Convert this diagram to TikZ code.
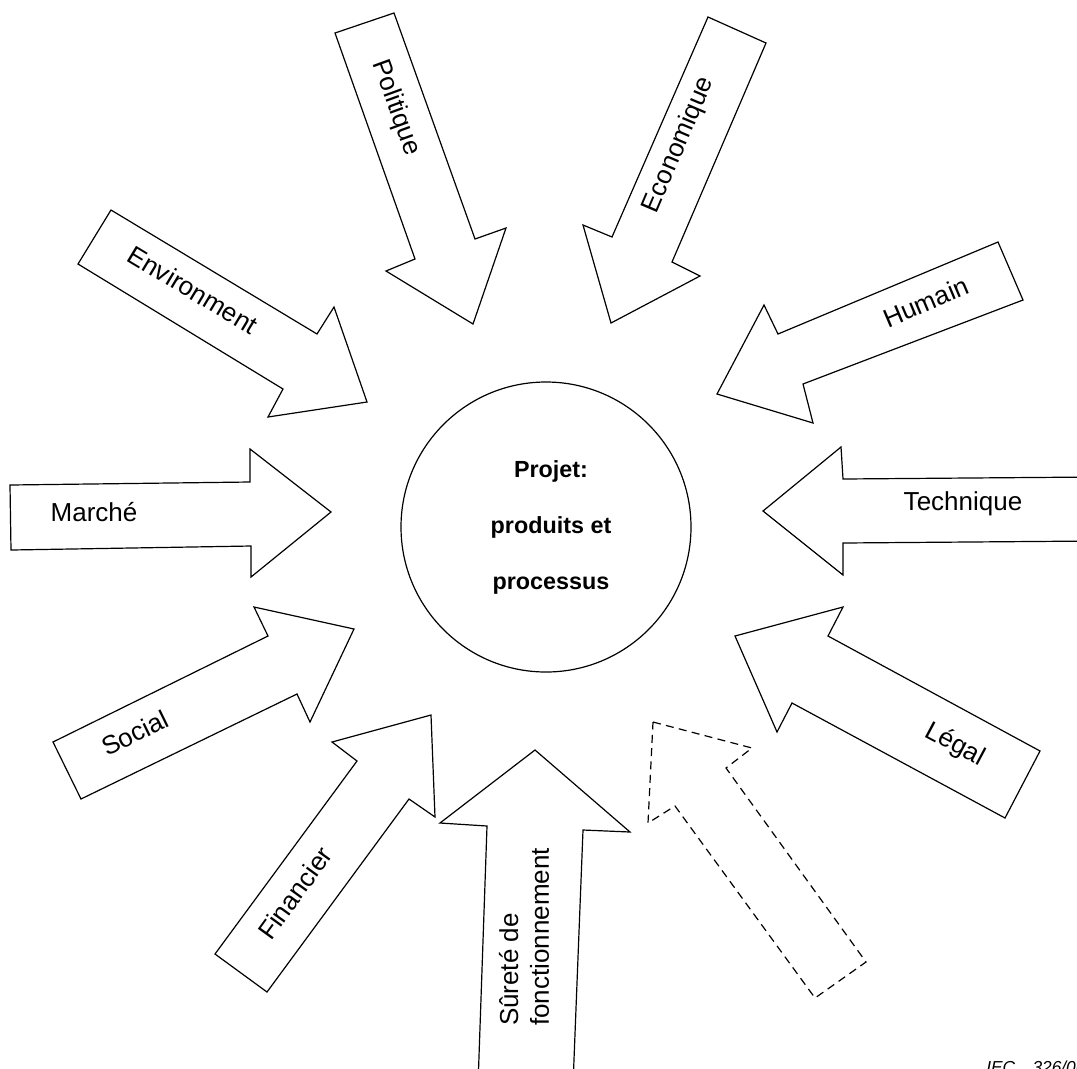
\documentclass[tikz,border=0pt]{standalone}
\usepackage{fontspec}
\setmainfont{Liberation Sans}
\usetikzlibrary{calc}
\tikzset{
    blockarrow/.style={draw, line width=0.9pt, line join=miter, fill=white},
    blockdashed/.style={blockarrow, dashed, dash pattern=on 6pt off 4pt},
    lbl/.style={font=\fontsize{19.5}{23}\selectfont, inner sep=0pt},
    centre/.style={font=\bfseries\fontsize{17.5}{42}\selectfont, align=center},
}

\begin{document}
\begin{tikzpicture}[x=0.75pt, y=-0.75pt]
    \useasboundingbox (0, 0) rectangle (1077, 1068);
    \clip (0, 0) rectangle (1077, 1068);
    % centre
    \node[circle, draw, line width=0.9pt, minimum size=217.5pt] (projet)
        at (546, 527) {};
    \node[centre] (projettxt) at (551, 527) {Projet:\\produits et\\processus};
    % arrows, top first, clockwise
    \draw[blockarrow] (335, 33) -- (394, 13) -- (475, 239) -- (506, 228)
        -- (473, 324) -- (386, 271) -- (415, 259) -- cycle;
    \node[lbl, rotate=-70] (politique) at (396, 108) {Politique};
    \draw[blockarrow] (708, 17) -- (766, 43) -- (672, 262) -- (700, 276)
        -- (611, 323) -- (583, 225) -- (612, 237) -- cycle;
    \node[lbl, rotate=67] (economique) at (679, 145) {Economique};
    \draw[blockarrow] (998, 242) -- (1023, 300) -- (803, 384) -- (813, 423)
        -- (717, 394) -- (764, 305) -- (778, 334) -- cycle;
    \node[lbl, rotate=23] (humain) at (926, 302) {Humain};
    \draw[blockarrow] (763, 511) -- (841, 447) -- (843, 479) -- (1095, 477)
        -- (1095, 541) -- (843, 543) -- (843, 575) -- cycle;
    \node[lbl] (technique) at (963, 504) {Technique};
    \draw[blockarrow] (735, 636) -- (843, 607) -- (828, 636) -- (1040, 751)
        -- (1005, 818) -- (792, 703) -- (777, 732) -- cycle;
    \node[lbl, rotate=-28] (legal) at (955, 745) {Légal};
    \draw[blockdashed] (653, 722) -- (752, 748) -- (726, 768) -- (866, 962)
        -- (815, 998) -- (675, 806) -- (648, 823) -- cycle;
    \draw[blockarrow] (478, 1085) -- (487, 826) -- (440, 823) -- (535, 750)
        -- (630, 832) -- (583, 830) -- (573, 1085) -- cycle;
    \node[lbl, rotate=90, align=left] (surete) at (524, 937)
        {Sûreté de\\fonctionnement};
    \draw[blockarrow] (215, 954) -- (357, 761) -- (332, 742) -- (431, 715)
        -- (435, 817) -- (409, 799) -- (267, 992) -- cycle;
    \node[lbl, rotate=54] (financier) at (295, 893) {Financier};
    \draw[blockarrow] (53, 742) -- (268, 636) -- (254, 607) -- (354, 629)
        -- (310, 722) -- (297, 694) -- (81, 799) -- cycle;
    \node[lbl, rotate=26] (social) at (135, 733) {Social};
    \draw[blockarrow] (10, 485) -- (250, 482) -- (250, 449) -- (331, 512)
        -- (251, 577) -- (251, 546) -- (11, 550) -- cycle;
    \node[lbl] (marche) at (94, 512) {Marché};
    \draw[blockarrow] (111, 210) -- (317, 334) -- (334, 307) -- (367, 402)
        -- (268, 417) -- (283, 389) -- (78, 264) -- cycle;
    \node[lbl, rotate=-31] (environnement) at (193, 290) {Environment};
    % reference number, cut by the page edge
    \node[font=\itshape\fontsize{13}{15}\selectfont, anchor=north west,
        inner sep=0pt] (iec) at (986, 1061) {IEC\quad 326/06};
\end{tikzpicture}
\end{document}
